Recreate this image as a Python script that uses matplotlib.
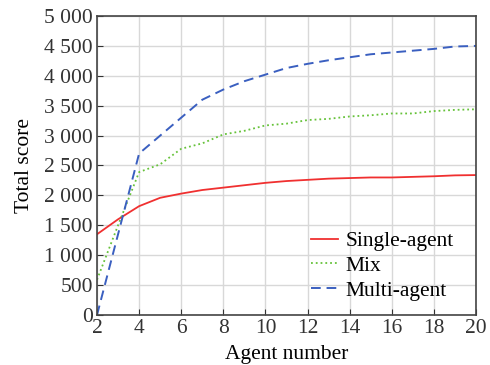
import matplotlib
matplotlib.use("Agg")
import matplotlib.pyplot as plt
from matplotlib.ticker import FuncFormatter

agents = list(range(2, 21))
single = [1350, 1600, 1820, 1960, 2030, 2090, 2130, 2170, 2210, 2240, 2260,
          2280, 2290, 2300, 2300, 2310, 2320, 2335, 2340]
mix = [590, 1500, 2390, 2520, 2780, 2870, 3020, 3080, 3170, 3200, 3260,
       3280, 3320, 3340, 3370, 3370, 3410, 3430, 3440]
multi = [0, 1350, 2700, 3000, 3300, 3600, 3770, 3910, 4020, 4130, 4200,
         4260, 4310, 4360, 4390, 4420, 4450, 4490, 4500]

plt.rcParams['font.family'] = ['Liberation Serif', 'DejaVu Serif']
fs = 15.5

fig = plt.figure(figsize=(4.9, 3.65), dpi=100)
ax = fig.add_axes([97 / 490, 50 / 365, 379 / 490, 299 / 365])

ax.plot(agents, single, color='#f03030', lw=1.3, label='Single-agent')
ax.plot(agents, mix, color='#66c23a', lw=1.3, ls=':', label='Mix')
ax.plot(agents, multi, color='#3a5fc0', lw=1.4, ls=(0, (5, 3)), label='Multi-agent')

ax.set_xlim(2, 20)
ax.set_ylim(0, 5000)
ax.set_xticks(range(2, 21, 2))
ax.set_yticks(range(0, 5001, 500))
ax.yaxis.set_major_formatter(FuncFormatter(lambda v, p: f"{int(v):,}".replace(",", " ")))
ax.grid(True, color='#d8d8d8', lw=1)
ax.set_axisbelow(True)
ax.tick_params(direction='in', length=4, labelsize=fs, colors='#333333', pad=3)
ax.tick_params(axis='x', pad=3)
for s in ax.spines.values():
    s.set_color('#444444')
    s.set_linewidth(1.2)

ax.set_xlabel('Agent number', fontsize=fs, labelpad=5)
ax.set_ylabel('Total score', fontsize=fs, labelpad=7)

ax.legend(loc='upper left', frameon=False, fontsize=fs, handlelength=1.25,
          borderaxespad=0, borderpad=0, labelspacing=0.22, handletextpad=0.35,
          bbox_to_anchor=((311 - 97) / 379, (315 - 231) / 299))

fig.savefig('out.png', dpi=100)
